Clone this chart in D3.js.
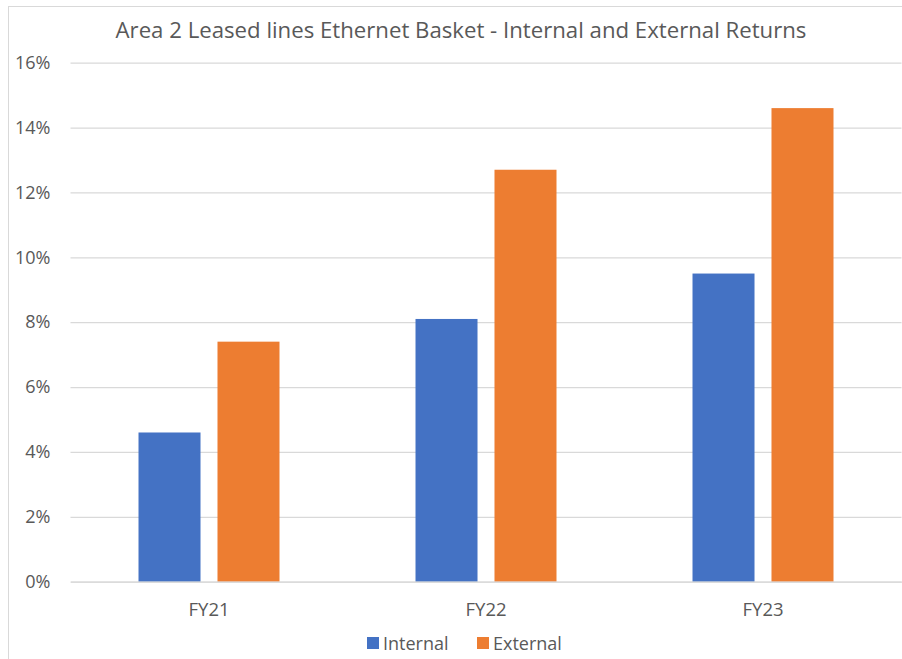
<!DOCTYPE html>
<html>
<head>
<meta charset="utf-8">
<script src="https://cdn.jsdelivr.net/npm/d3@7"></script>
<style>
  html, body { margin: 0; padding: 0; background: #fff; }
  svg { display: block; }
  text { font-family: "Open Sans", sans-serif; fill: #595959; }
</style>
</head>
<body>
<svg id="chart" width="902" height="659"></svg>
<script>
// Returns by financial year, as fractions
const categories = ["FY21", "FY22", "FY23"];
const seriesNames = ["Internal", "External"];
const internalValues = [0.046, 0.081, 0.095];
const externalValues = [0.074, 0.127, 0.146];
const yTicks = [0, 0.02, 0.04, 0.06, 0.08, 0.10, 0.12, 0.14, 0.16];
const colors = ["#4472C4", "#ED7D31"];
const titleText = "Area 2 Leased lines Ethernet Basket - Internal and External Returns";

const rows = categories.map((c, i) => ({
  category: c,
  values: [
    { series: seriesNames[0], value: internalValues[i] },
    { series: seriesNames[1], value: externalValues[i] }
  ]
}));

const svg = d3.select("#chart");

// chart frame
svg.append("rect")
  .attr("x", 8.5).attr("y", 6.5)
  .attr("width", 920).attr("height", 700)
  .attr("fill", "none").attr("stroke", "#D9D9D9").attr("stroke-width", 1);

const plot = { left: 70.5, right: 901.5, top: 62.7, bottom: 581.7 };

const y = d3.scaleLinear().domain([0, 0.16]).range([plot.bottom, plot.top]);

const x0 = d3.scaleBand()
  .domain(categories)
  .range([plot.left, plot.right])
  .paddingInner(0.491)
  .paddingOuter(0.2455);

const x1 = d3.scaleBand()
  .domain(seriesNames)
  .range([0, x0.bandwidth()])
  .paddingInner(0.215);

const color = d3.scaleOrdinal().domain(seriesNames).range(colors);

// horizontal gridlines and y labels
const yAxis = d3.axisLeft(y)
  .tickValues(yTicks)
  .tickFormat(d3.format(".0%"))
  .tickSize(-(plot.right - plot.left))
  .tickPadding(20);

const gy = svg.append("g")
  .attr("transform", `translate(${plot.left},0)`)
  .call(yAxis);
gy.select(".domain").remove();
gy.selectAll(".tick line").attr("stroke", "#D9D9D9").attr("stroke-width", 1.3);
gy.selectAll(".tick text")
  .style("font-size", "18px")
  .attr("fill", "#595959");

// bars
const groups = svg.append("g").selectAll("g")
  .data(rows)
  .join("g")
  .attr("transform", d => `translate(${x0(d.category)},0)`);

groups.selectAll("rect")
  .data(d => d.values)
  .join("rect")
  .attr("x", d => x1(d.series))
  .attr("width", x1.bandwidth())
  .attr("y", d => y(d.value))
  .attr("height", d => y(0) - y(d.value))
  .attr("fill", d => color(d.series));

// category axis
const xAxis = d3.axisBottom(x0).tickSize(0).tickPadding(21);
const gx = svg.append("g")
  .attr("transform", `translate(0,${plot.bottom})`)
  .call(xAxis);
gx.select(".domain").attr("stroke", "#D9D9D9").attr("stroke-width", 1.3);
gx.selectAll(".tick text").style("font-size", "18.5px").attr("fill", "#595959");

// title
svg.append("text")
  .attr("x", 461)
  .attr("y", 37.5)
  .attr("text-anchor", "middle")
  .style("font-size", "22.2px")
  .text(titleText);

// legend
const legendItems = [
  { name: seriesNames[0], x: 367 },
  { name: seriesNames[1], x: 477 }
];
const legend = svg.append("g").selectAll("g")
  .data(legendItems)
  .join("g")
  .attr("transform", d => `translate(${d.x},637)`);
legend.append("rect")
  .attr("width", 12).attr("height", 12)
  .attr("fill", d => color(d.name));
legend.append("text")
  .attr("x", 16).attr("y", 12.5)
  .style("font-size", "18px")
  .text(d => d.name);
</script>
</body>
</html>
